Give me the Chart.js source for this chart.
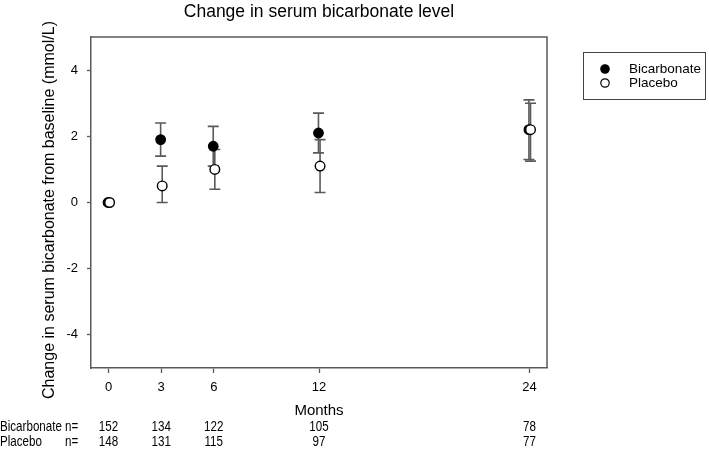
<!DOCTYPE html>
<html>
<head>
<meta charset="utf-8">
<script src="https://cdn.jsdelivr.net/npm/chart.js@4.4.1/dist/chart.umd.min.js"></script>
<style>
  html, body { margin: 0; padding: 0; background: #fff; }
  #wrap { width: 709px; height: 453px; position: relative; }
</style>
</head>
<body>
<div id="wrap"><canvas id="c" width="709" height="453"></canvas></div>
<script>
// ---- Data ----
const months = [0, 3, 6, 12, 24];
const bicarbMean = [0, 1.9, 1.7, 2.1, 2.2];
const bicarbLow  = [0, 1.4, 1.1, 1.5, 1.3];
const bicarbHigh = [0, 2.4, 2.3, 2.7, 3.1];
const placeboMean = [0, 0.5, 1.0, 1.1, 2.2];
const placeboLow  = [0, 0.0, 0.4, 0.3, 1.25];
const placeboHigh = [0, 1.1, 1.6, 1.9, 3.0];
const bicarbN  = [152, 134, 122, 105, 78];
const placeboN = [148, 131, 115, 97, 77];
const yTicks = [-4, -2, 0, 2, 4];
const xTicks = [0, 3, 6, 12, 24];
const seriesNames = ['Bicarbonate', 'Placebo'];
const titleText = 'Change in serum bicarbonate level';
const yTitleText = 'Change in serum bicarbonate from baseline (mmol/L)';
const xTitleText = 'Months';

// small horizontal dodge so overlapping markers stay visible
const dodge = [-0.03, 0.06];

const FONT = "'Liberation Sans', Arial, sans-serif";
const AXIS = '#5a5a5a';

function pts(mean, low, high, off) {
  return months.map((m, i) => ({ x: m + off, y: mean[i], lo: low[i], hi: high[i] }));
}

const errorBars = {
  id: 'errorBars',
  beforeDatasetsDraw(chart) {
    const { ctx, scales: { x, y } } = chart;
    ctx.save();
    ctx.strokeStyle = AXIS;
    ctx.lineWidth = 1.6;
    chart.data.datasets.forEach(ds => {
      ds.data.forEach(p => {
        const px = x.getPixelForValue(p.x);
        const pl = y.getPixelForValue(p.lo);
        const ph = y.getPixelForValue(p.hi);
        if (Math.abs(pl - ph) < 0.5) return;
        ctx.beginPath();
        ctx.moveTo(px, pl); ctx.lineTo(px, ph);
        ctx.moveTo(px - 5.5, pl); ctx.lineTo(px + 5.5, pl);
        ctx.moveTo(px - 5.5, ph); ctx.lineTo(px + 5.5, ph);
        ctx.stroke();
      });
    });
    ctx.restore();
  }
};

function narrowText(ctx, text, x, y, align) {
  const sx = 0.8;
  ctx.save();
  ctx.translate(x, y);
  ctx.scale(sx, 1);
  ctx.textAlign = align;
  ctx.fillText(text, 0, 0);
  ctx.restore();
}

const decorations = {
  id: 'decorations',
  afterDraw(chart) {
    const { ctx, chartArea: a, scales: { x } } = chart;
    ctx.save();
    // frame top & right
    ctx.strokeStyle = AXIS;
    ctx.lineWidth = 1.5;
    ctx.beginPath();
    ctx.moveTo(a.left, a.top); ctx.lineTo(a.right, a.top); ctx.lineTo(a.right, a.bottom);
    ctx.stroke();

    ctx.fillStyle = '#000';
    // title
    ctx.font = '17.5px ' + FONT;
    ctx.textAlign = 'center';
    ctx.textBaseline = 'middle';
    ctx.fillText(titleText, (a.left + a.right) / 2, 12);

    // y title
    ctx.save();
    ctx.translate(50, 210);
    ctx.rotate(-Math.PI / 2);
    ctx.font = '16px ' + FONT;
    ctx.fillText(yTitleText, 0, 0);
    ctx.restore();

    // x title
    ctx.font = '15px ' + FONT;
    ctx.fillText(xTitleText, (a.left + a.right) / 2, 411);

    // n table
    ctx.font = '14.5px ' + FONT;
    narrowText(ctx, 'Bicarbonate', 0, 427, 'left');
    narrowText(ctx, 'n=', 65, 427, 'left');
    narrowText(ctx, 'Placebo', 0, 442, 'left');
    narrowText(ctx, 'n=', 65, 442, 'left');
    months.forEach((m, i) => {
      const px = x.getPixelForValue(m);
      narrowText(ctx, String(bicarbN[i]), px, 427, 'center');
      narrowText(ctx, String(placeboN[i]), px, 442, 'center');
    });

    // legend
    ctx.strokeStyle = '#444';
    ctx.lineWidth = 1;
    ctx.strokeRect(583.5, 52.5, 122, 47);
    ctx.font = '13.5px ' + FONT;
    ctx.textAlign = 'left';
    const ly = [69, 83];
    chart.data.datasets.forEach((ds, i) => {
      ctx.beginPath();
      ctx.arc(605, ly[i], 4.2, 0, Math.PI * 2);
      ctx.fillStyle = ds.backgroundColor;
      ctx.fill();
      ctx.strokeStyle = '#000';
      ctx.lineWidth = 1.2;
      ctx.stroke();
      ctx.fillStyle = '#000';
      ctx.fillText(seriesNames[i], 629, ly[i]);
    });
    ctx.restore();
  }
};

new Chart(document.getElementById('c'), {
  type: 'scatter',
  data: {
    datasets: [
      {
        label: seriesNames[0],
        order: 2,
        data: pts(bicarbMean, bicarbLow, bicarbHigh, dodge[0]),
        backgroundColor: '#000',
        borderColor: '#000',
        borderWidth: 1.2,
        pointRadius: 4.8,
        pointHoverRadius: 4.8
      },
      {
        label: seriesNames[1],
        order: 1,
        data: pts(placeboMean, placeboLow, placeboHigh, dodge[1]),
        backgroundColor: '#fff',
        borderColor: '#000',
        borderWidth: 1.4,
        pointRadius: 4.8,
        pointHoverRadius: 4.8
      }
    ]
  },
  options: {
    responsive: false,
    animation: false,
    devicePixelRatio: 1,
    layout: { padding: { left: 0, right: 162, top: 37, bottom: 0 } },
    plugins: { legend: { display: false }, title: { display: false }, tooltip: { enabled: false } },
    scales: {
      x: {
        type: 'linear',
        min: -1, max: 25,
        afterBuildTicks: s => { s.ticks = xTicks.map(v => ({ value: v })); },
        afterFit: s => { s.height = 85; },
        grid: { drawOnChartArea: false, drawTicks: true, tickLength: 5, color: AXIS, tickWidth: 1.3 },
        border: { display: true, color: AXIS, width: 1.5 },
        ticks: { color: '#000', font: { family: FONT, size: 13 }, padding: 7, maxRotation: 0, autoSkip: false }
      },
      y: {
        type: 'linear',
        min: -5, max: 5,
        afterBuildTicks: s => { s.ticks = yTicks.map(v => ({ value: v })); },
        afterFit: s => { s.width = 91; },
        grid: { drawOnChartArea: false, drawTicks: true, tickLength: 4, color: AXIS, tickWidth: 1.3 },
        border: { display: true, color: AXIS, width: 1.5 },
        ticks: { color: '#000', font: { family: FONT, size: 13 }, padding: 9 }
      }
    }
  },
  plugins: [errorBars, decorations]
});
</script>
</body>
</html>
